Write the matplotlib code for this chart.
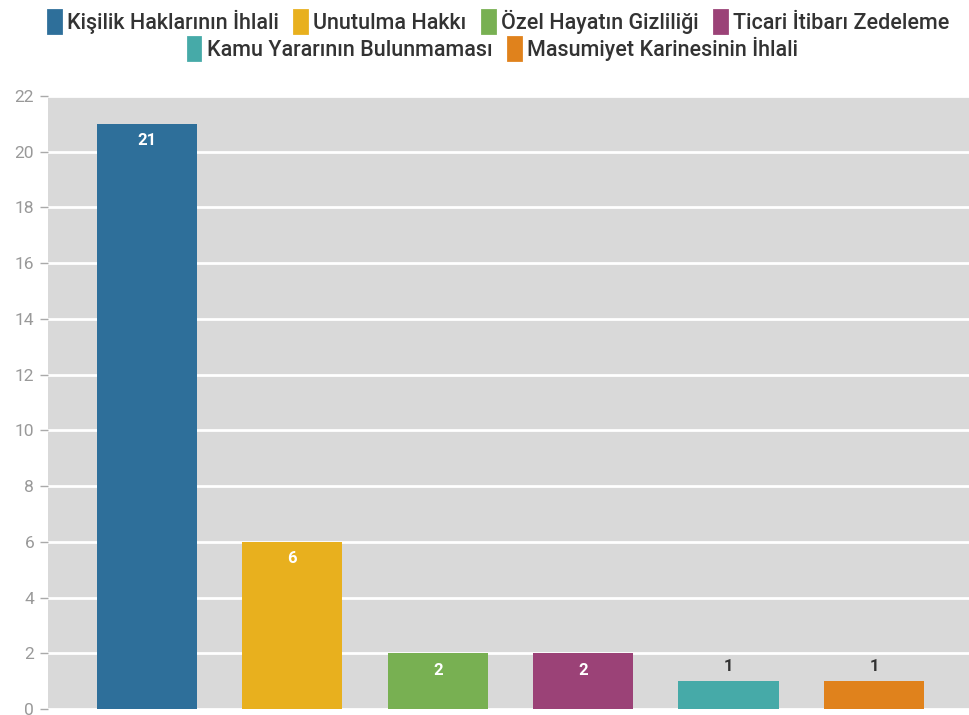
import matplotlib.pyplot as plt
import matplotlib.patches as mpatches

categories = ["Kişilik Haklarının İhlali", "Unutulma Hakkı", "Özel Hayatın Gizliliği",
              "Ticari İtibarı Zedeleme", "Kamu Yararının Bulunmaması", "Masumiyet Karinesinin İhlali"]
counts = [21, 6, 2, 2, 1, 1]
colors = ["#2e6f9a", "#e8b01e", "#78b052", "#9b4277", "#46aaa8", "#e0821c"]
yticks = list(range(0, 23, 2))

plt.rcParams['font.family'] = ['Roboto', 'DejaVu Sans']

fig = plt.figure(figsize=(9.7, 7.15), dpi=100)
ax = fig.add_axes([0.0495, 0.0084, 0.9505, 0.8573])
ax.set_facecolor("#d9d9d9")

x = list(range(len(categories)))
ax.bar(x, counts, width=0.69, color=colors, zorder=3)

for xi, v in zip(x, counts):
    if v >= 2:
        ax.annotate(str(v), (xi, v), xytext=(0, -17), textcoords="offset pixels",
                    ha="center", va="center", color="white", fontsize=12,
                    fontweight="bold", zorder=4)
    else:
        ax.annotate(str(v), (xi, v), xytext=(0, 15), textcoords="offset pixels",
                    ha="center", va="center", color="#333333", fontsize=12,
                    fontweight="bold", zorder=4)

ax.set_xlim(-0.68, 5.66)
ax.set_ylim(0, 22)
ax.set_yticks(yticks)
ax.set_xticks([])
ax.grid(axis="y", color="white", linewidth=2, zorder=1)
ax.set_axisbelow(True)
for s in ax.spines.values():
    s.set_visible(False)
ax.tick_params(axis="y", colors="#aaaaaa", labelcolor="#999999", labelsize=12.5,
               length=6, width=1, pad=4)

# legend in two centered rows
handles = [mpatches.Patch(facecolor=c, edgecolor=c, linewidth=2, joinstyle="round")
           for c in colors]
leg_kw = dict(frameon=False, handlelength=0.6, handleheight=1.3, handletextpad=0.3,
              columnspacing=0.7, fontsize=15.5, labelcolor="#333333")
leg1 = fig.legend(handles[:4], categories[:4], ncol=4, loc="center",
                  bbox_to_anchor=(0.514, 0.97), **leg_kw)
leg2 = fig.legend(handles[4:], categories[4:], ncol=2, loc="center",
                  bbox_to_anchor=(0.508, 0.932), **leg_kw)
for leg in (leg1, leg2):
    for t in leg.get_texts():
        t.set_fontweight("medium")

fig.savefig("out.png", dpi=100)
